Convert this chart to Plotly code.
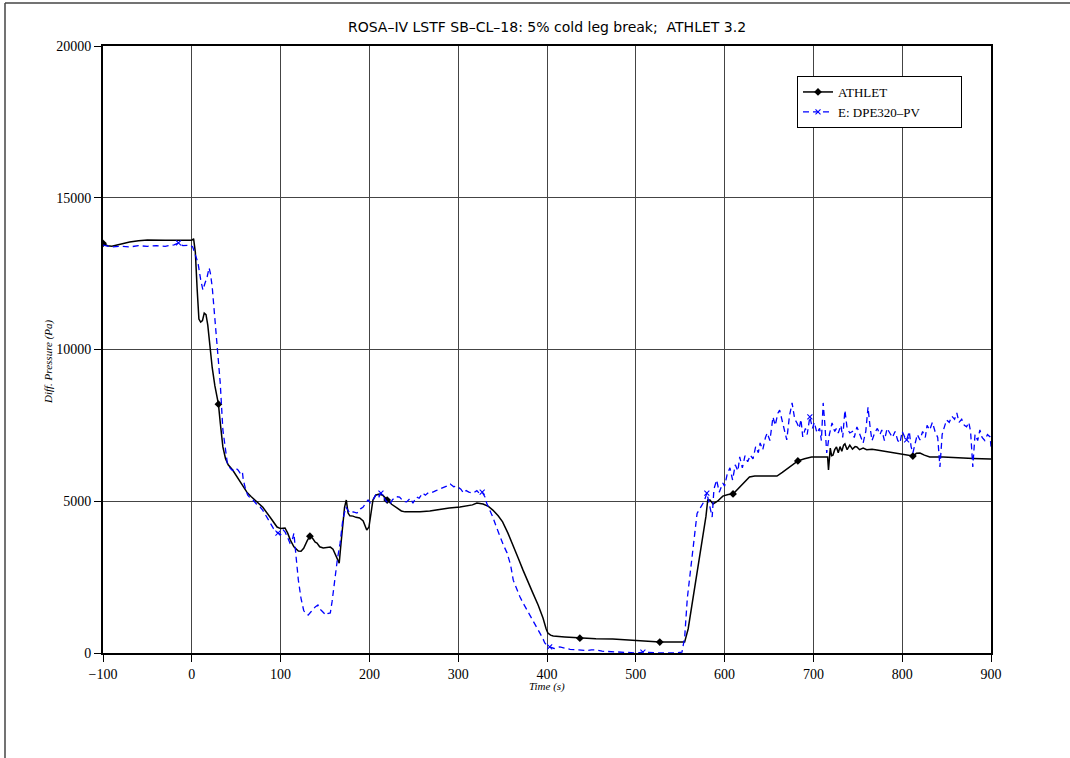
import numpy as np
import plotly.graph_objects as go

# ATHLET 3.2 calculation: differential pressure (Pa) over time (s)
athlet_t = [-100, -95, -90, -80, -70, -60, -50, -30, -10, 0, 2, 4, 6, 8, 10, 12, 14, 16, 18, 20,
            23, 26, 30, 32, 35, 38, 41, 46, 50, 55, 62, 67, 73, 80, 88, 92, 96, 100, 105, 108,
            111, 115, 120, 123, 126, 130, 133, 136, 139, 141, 144, 148, 152, 156, 159, 161, 164,
            166, 168, 170, 172, 174, 176, 178, 181.5, 185, 189, 193, 197, 199.5, 202, 204, 207,
            211, 215, 220, 225, 231, 236, 240, 248, 257, 268, 279.5, 290, 302, 311, 316, 321,
            328, 334, 339, 345, 350, 356, 362, 368, 373, 379, 384, 390, 395.5, 399, 401, 404,
            407, 420, 437, 455, 474, 490, 501, 515, 527, 545, 555, 559, 563, 567, 572, 576, 579,
            581, 583.5, 587, 592, 598, 604, 609.5, 615, 622, 628, 634, 645, 659, 665, 672,
            682.5, 690, 698, 705, 716, 717, 718, 719, 720.5, 722, 724, 726, 728, 730, 732, 734,
            735.5, 738, 741, 744, 747, 749, 752, 756, 760, 766, 771.5, 780, 789.5, 800, 806,
            812, 816, 820, 825, 831, 846, 860, 880, 899, 900]
athlet_p = [13500, 13420, 13400, 13480, 13540, 13580, 13610, 13600, 13600, 13600, 13650, 13200,
            12000, 11000, 10900, 10950, 11200, 11150, 10800, 10200, 9400, 8800, 8200, 7600, 6790,
            6400, 6200, 6030, 5850, 5600, 5300, 5150, 4975, 4800, 4480, 4300, 4150, 4100, 4120,
            3950, 3720, 3500, 3360, 3350, 3450, 3700, 3850, 3780, 3650, 3620, 3500, 3460, 3480,
            3490, 3420, 3290, 3100, 2960, 3600, 4280, 4800, 5040, 4610, 4520, 4510, 4470, 4450,
            4350, 4050, 4150, 4700, 5040, 5200, 5240, 5200, 5040, 4900, 4780, 4680, 4650, 4640,
            4650, 4680, 4740, 4780, 4810, 4840, 4880, 4940, 4910, 4830, 4710, 4520, 4320, 3950,
            3490, 3100, 2730, 2350, 1980, 1580, 1150, 800, 660, 590, 560, 530, 490, 470, 460,
            430, 400, 380, 360, 360, 360, 800, 1520, 2300, 3160, 3900, 4500, 5040, 5040, 4910,
            5000, 5170, 5220, 5240, 5400, 5600, 5800, 5830, 5830, 5830, 5950, 6100, 6330, 6400,
            6460, 6460, 6460, 6030, 6600, 6750, 6500, 6520, 6700, 6790, 6600, 6800, 6650, 6850,
            6890, 6700, 6850, 6720, 6800, 6790, 6700, 6750, 6700, 6710, 6690, 6650, 6620, 6560,
            6520, 6490, 6580, 6590, 6520, 6460, 6460, 6430, 6410, 6390, 6390]
athlet_marker_t = [-100, 30, 133, 220, 437, 527, 609.5, 682.5, 812]

# Measured signal E: DPE320-PV
exp_t = [-100, -90, -80, -70, -60, -50, -40, -30, -20, -15, -10, -5, -2, 1, 4, 7, 10, 12.5, 15,
         17, 19.5, 21, 23, 26, 29.5, 32, 35, 37.5, 40, 43, 45, 48, 50, 52, 55, 57, 58, 61, 63,
         66, 69, 73, 77, 80, 84, 88, 92, 95, 97, 100, 103, 105, 108, 110.5, 113, 115, 117, 120,
         123, 126, 128, 131, 134, 137, 139, 142, 144, 146, 148, 151, 153, 156, 158, 161, 164,
         167, 170, 173.5, 176, 178, 182, 186, 190, 193, 196, 198.5, 201, 204, 207, 210, 213,
         216, 219, 223, 226, 230, 234, 238, 242, 246, 249, 253, 256, 260, 263, 267, 271.5, 275,
         279, 283, 287, 291, 295, 298, 300, 303, 306, 309, 312, 317, 321, 324, 327, 330, 332,
         336, 339, 343, 347, 351, 355, 359, 362, 366, 369.5, 373, 377.5, 381, 384, 388, 392,
         395, 397.5, 400, 403, 408, 414.5, 420, 426, 432, 437, 444, 450, 456, 462, 470, 476,
         482, 490, 496, 502, 508, 515, 525, 535, 545, 552, 555, 558, 562, 566, 569, 574, 577,
         580, 583, 586, 588, 591, 594, 598, 600, 603, 606, 609, 612, 615, 617, 620, 623, 626,
         629, 632, 635, 638, 640, 643, 646, 648, 651, 654.5, 657, 660, 662, 665, 667, 670, 673,
         676, 679, 681.5, 684, 686, 688, 691, 693, 696, 699, 701, 704, 707, 709, 711, 713, 715,
         718, 721, 724, 726, 728, 731, 733, 735.5, 738, 741, 744, 746, 749, 752, 756, 759,
         761.5, 764, 766, 769, 772, 775, 777, 780, 783, 786, 789, 792, 795, 797.5, 800, 803,
         805, 808, 810, 812, 815, 817, 820, 823, 826, 828, 831, 834, 837, 840, 842.5, 845, 847,
         850, 853, 856, 859, 861.5, 864, 867, 870, 872.5, 875, 877, 879.5, 882, 885, 887.5, 890,
         893, 896, 899, 900]
exp_p = [13440, 13380, 13400, 13380, 13420, 13400, 13420, 13400, 13450, 13510, 13420, 13430,
         13440, 13380, 13100, 12850, 12300, 11960, 12200, 12360, 12690, 12500, 12060, 10970,
         9880, 8900, 7350, 6700, 6260, 6100, 6030, 6000, 6080, 6030, 5900, 5960, 5700, 5350,
         5200, 5100, 5040, 4900, 4810, 4700, 4500, 4280, 4100, 4000, 3950, 3900, 4050, 3990,
         3800, 3620, 3700, 3950, 3300, 2400, 1800, 1400, 1320, 1250, 1350, 1450, 1520, 1580,
         1450, 1400, 1350, 1250, 1300, 1320, 1700, 2500, 3100, 3620, 4380, 4810, 4700, 4610,
         4650, 4610, 4750, 4810, 4950, 5040, 4950, 5040, 5200, 5100, 5270, 5140, 5000, 4900,
         5050, 5150, 5140, 5000, 4980, 5100, 4940, 5140, 5100, 5270, 5200, 5300, 5300, 5350,
         5400, 5440, 5500, 5570, 5480, 5500, 5470, 5400, 5270, 5350, 5300, 5270, 5350, 5250,
         5300, 5150, 4940, 4700, 4480, 4150, 3820, 3550, 3300, 2900, 2400, 2100, 1850, 1650,
         1420, 1250, 1090, 900, 690, 500, 330, 250, 200, 150, 200, 150, 120, 110, 100, 80, 100,
         100, 60, 50, 40, 30, 20, 30, 0, 30, 10, 0, 0, 0, 30, 500, 1800, 2800, 3900, 4600, 4850,
         5000, 5270, 4900, 4480, 5400, 5700, 5300, 5600, 5500, 5900, 6100, 5700, 6200, 6000,
         6460, 6100, 6500, 6300, 6520, 6400, 6800, 6600, 6920, 6700, 7100, 7250, 7000, 7780,
         7500, 7900, 8000, 7600, 7400, 7020, 7800, 8240, 7700, 7580, 7400, 7700, 7120, 7400,
         7200, 7780, 7400, 7600, 7250, 7400, 7000, 8240, 7500, 6590, 7200, 7580, 7300, 7400,
         7250, 7500, 7100, 8000, 7400, 7250, 7300, 7100, 7450, 7200, 6920, 7300, 8100, 7400,
         7000, 7250, 7400, 7200, 7350, 7000, 7400, 7250, 7100, 7300, 7000, 6920, 7300, 7100,
         7020, 7300, 6800, 6590, 7000, 7200, 7020, 7300, 7100, 7500, 7350, 7600, 7300, 7100,
         6130, 7200, 7400, 7680, 7600, 7800, 7700, 7910, 7600, 7700, 7500, 7450, 7600, 7300,
         6130, 7200, 7000, 7350, 7100, 7000, 7200, 7120, 6800]
exp_marker_t = [-15, 97, 213, 327, 403, 508, 580, 696, 805]

x_ticks = [-100, 0, 100, 200, 300, 400, 500, 600, 700, 800, 900]
y_ticks = [0, 5000, 10000, 15000, 20000]

BLACK = "#000000"
BLUE = "#0000ff"
SERIF = "Liberation Serif, Times New Roman, serif"
NBSP = "\u00a0"

at = np.array(athlet_t, dtype=float)
ap = np.array(athlet_p, dtype=float)
am = np.isin(at, athlet_marker_t)
et = np.array(exp_t, dtype=float)
ep = np.array(exp_p, dtype=float)
em = np.isin(et, exp_marker_t)

athlet_marker = dict(symbol="diamond", size=6, color=BLACK)
exp_marker = dict(symbol="x-thin", size=5, color=BLUE, line=dict(color=BLUE, width=1.1))
athlet_line = dict(color=BLACK, width=1.5)
exp_line = dict(color=BLUE, width=1.3, dash="6px,4px")

fig = go.Figure()

fig.add_trace(go.Scatter(x=at, y=ap, mode="lines", line=athlet_line,
                         showlegend=False, hoverinfo="skip"))
fig.add_trace(go.Scatter(x=at[am], y=ap[am], mode="markers", marker=athlet_marker,
                         showlegend=False))
fig.add_trace(go.Scatter(x=et, y=ep, mode="lines", line=exp_line,
                         showlegend=False, hoverinfo="skip"))
fig.add_trace(go.Scatter(x=et[em], y=ep[em], mode="markers", marker=exp_marker,
                         showlegend=False))

# legend entries
fig.add_trace(go.Scatter(x=[None], y=[None], mode="lines+markers", name="ATHLET",
                         line=athlet_line, marker=athlet_marker))
fig.add_trace(go.Scatter(x=[None], y=[None], mode="lines+markers",
                         name="E: DPE320\u2013PV" + NBSP * 11,
                         line=exp_line, marker=exp_marker))

axis_common = dict(
    showgrid=True, gridcolor="#444444", gridwidth=1,
    showline=True, linecolor=BLACK, linewidth=2, mirror=True,
    ticks="outside", tickcolor=BLACK, ticklen=7, tickwidth=1,
    tickfont=dict(family=SERIF, size=14, color=BLACK),
    zeroline=False,
)

fig.update_xaxes(range=[-100, 900], tickmode="array", tickvals=x_ticks,
                 ticktext=[str(v).replace("-", "\u2212") for v in x_ticks], **axis_common)
fig.update_yaxes(range=[0, 20000], tickmode="array", tickvals=y_ticks,
                 ticktext=[str(v) for v in y_ticks], **axis_common)

fig.update_layout(
    width=1070, height=758,
    margin=dict(l=103, r=79, t=46, b=105),
    paper_bgcolor="white", plot_bgcolor="white",
    title=dict(text="ROSA\u2013IV LSTF SB\u2013CL\u201318: 5% cold leg break;  ATHLET 3.2",
               x=(547 / 1070), xanchor="center", y=1 - 27 / 758, yanchor="middle",
               font=dict(family="DejaVu Sans, sans-serif", size=14, color=BLACK)),
    legend=dict(x=(797 - 103) / 888, y=(653 - 76) / 607, xanchor="left", yanchor="top",
                bgcolor="white", bordercolor=BLACK, borderwidth=1,
                font=dict(family=SERIF, size=13, color=BLACK),
                tracegroupgap=0),
    annotations=[
        dict(text="<i>Diff. Pressure (Pa)</i>", xref="paper", yref="paper",
             x=(48 - 103) / 888, y=(653 - 362) / 607, textangle=-90, showarrow=False,
             font=dict(family=SERIF, size=11, color=BLACK), xanchor="center", yanchor="middle"),
        dict(text="<i>Time (s)</i>", xref="paper", yref="paper",
             x=(547 - 103) / 888, y=(653 - 686) / 607, showarrow=False,
             font=dict(family=SERIF, size=11, color=BLACK), xanchor="center", yanchor="middle"),
    ],
    shapes=[
        dict(type="line", xref="paper", yref="paper",
             x0=(5 - 103) / 888, x1=(1070 - 103) / 888,
             y0=(653 - 3) / 607, y1=(653 - 3) / 607,
             line=dict(color="#444444", width=1.5)),
        dict(type="line", xref="paper", yref="paper",
             x0=(5 - 103) / 888, x1=(5 - 103) / 888,
             y0=(653 - 3) / 607, y1=(653 - 758) / 607,
             line=dict(color="#444444", width=1.5)),
    ],
)

fig.write_html("out.html")
